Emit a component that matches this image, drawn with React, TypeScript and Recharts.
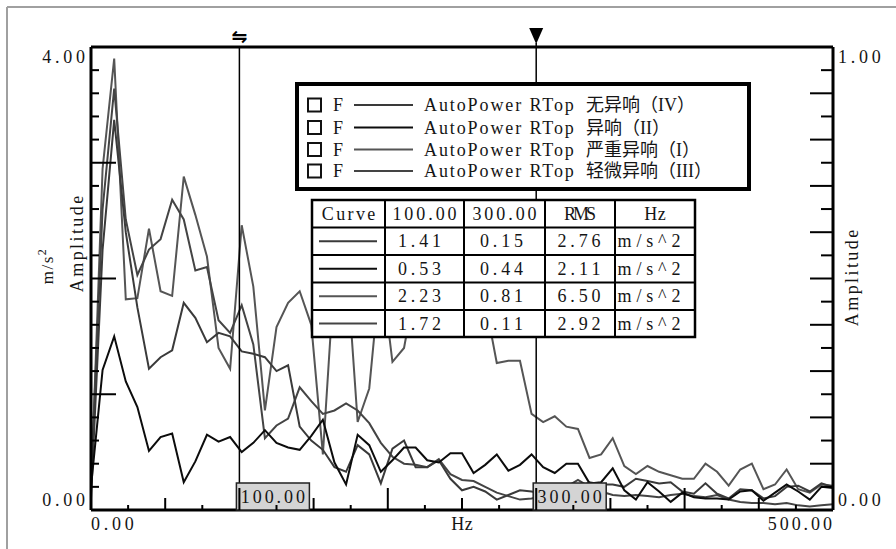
import React from 'react';
import { LineChart, Line, XAxis, YAxis, ReferenceLine } from 'recharts';

const FONT = "'Liberation Serif', 'Noto Sans CJK SC', serif";
const TXT = '#151515';

// frequency axis (Hz)
const freqs = [
  0, 7.81, 15.63, 23.44, 31.25, 39.06, 46.88, 54.69, 62.5, 70.31, 78.13, 85.94, 93.75,
  101.56, 109.38, 117.19, 125, 132.81, 140.63, 148.44, 156.25, 164.06, 171.88, 179.69,
  187.5, 195.31, 203.13, 210.94, 218.75, 226.56, 234.38, 242.19, 250, 257.81, 265.63,
  273.44, 281.25, 289.06, 296.88, 304.69, 312.5, 320.31, 328.13, 335.94, 343.75, 351.56,
  359.38, 367.19, 375, 382.81, 390.63, 398.44, 406.25, 414.06, 421.88, 429.69, 437.5,
  445.31, 453.13, 460.94, 468.75, 476.56, 484.38, 492.19, 500,
];

// AutoPower RTop 无异响（IV）
const seriesIV = [
  0.10, 2.25, 3.37, 2.40, 1.75, 1.22, 1.32, 1.38, 1.79, 1.66, 1.45, 1.53, 1.50,
  1.37, 1.35, 1.32, 1.20, 1.25, 0.72, 0.60, 0.52, 0.37, 0.33, 0.56, 0.48, 0.23,
  0.53, 0.60, 0.37, 0.37, 0.43, 0.27, 0.17, 0.20, 0.16, 0.09, 0.13, 0.17, 0.16,
  0.14, 0.20, 0.17, 0.19, 0.24, 0.22, 0.22, 0.20, 0.27, 0.25, 0.23, 0.24, 0.16,
  0.14, 0.23, 0.14, 0.10, 0.18, 0.17, 0.10, 0.12, 0.20, 0.21, 0.16, 0.23, 0.20,
];
// AutoPower RTop 异响（II）
const seriesII = [
  0.20, 1.21, 1.50, 1.11, 0.89, 0.51, 0.63, 0.66, 0.24, 0.42, 0.65, 0.59, 0.63,
  0.50, 0.58, 0.69, 0.58, 0.54, 0.52, 0.64, 0.78, 0.41, 0.22, 0.65, 0.56, 0.33,
  0.43, 0.54, 0.54, 0.43, 0.41, 0.49, 0.49, 0.32, 0.39, 0.48, 0.34, 0.39, 0.48,
  0.37, 0.32, 0.40, 0.40, 0.23, 0.24, 0.36, 0.17, 0.09, 0.24, 0.16, 0.07, 0.15,
  0.11, 0.10, 0.10, 0.09, 0.16, 0.17, 0.08, 0.15, 0.22, 0.16, 0.09, 0.20, 0.19,
];
// AutoPower RTop 严重异响（I）
const seriesI = [
  0.15, 2.95, 3.90, 1.82, 1.83, 2.43, 1.89, 1.85, 2.88, 2.55, 2.19, 1.40, 1.22,
  2.46, 1.93, 0.86, 1.58, 1.79, 1.89, 1.60, 0.48, 2.05, 2.20, 0.76, 1.05, 2.10,
  1.28, 1.40, 1.95, 2.30, 2.05, 2.40, 2.15, 2.25, 1.80, 1.27, 1.29, 1.29, 0.83,
  0.76, 0.81, 0.72, 0.70, 0.45, 0.48, 0.62, 0.38, 0.31, 0.38, 0.33, 0.30, 0.27,
  0.27, 0.40, 0.33, 0.21, 0.35, 0.40, 0.18, 0.22, 0.35, 0.18, 0.15, 0.22, 0.21,
];
// AutoPower RTop 轻微异响（III）
const seriesIII = [
  0.25, 2.60, 3.64, 2.51, 2.03, 2.25, 2.34, 2.68, 2.51, 2.07, 2.10, 1.64, 1.53,
  1.77, 1.43, 0.62, 0.73, 0.79, 1.06, 0.94, 0.83, 0.86, 0.92, 0.86, 0.75, 0.58,
  0.46, 0.40, 0.39, 0.37, 0.44, 0.31, 0.26, 0.25, 0.20, 0.15, 0.12, 0.09, 0.10,
  0.12, 0.18, 0.20, 0.26, 0.20, 0.16, 0.13, 0.12, 0.13, 0.12, 0.11, 0.13, 0.14,
  0.12, 0.11, 0.13, 0.09, 0.07, 0.06, 0.06, 0.05, 0.06, 0.04, 0.03, 0.04, 0.05,
];

const seriesKeys = ['iv', 'ii', 'i', 'iii'];
const seriesPrefix = 'AutoPower RTop';
const seriesNames = ['无异响（IV）', '异响（II）', '严重异响（I）', '轻微异响（III）'];
const seriesColors = ['#3a3a3a', '#0c0c0c', '#555555', '#444444'];
const drawOrder = [2, 3, 0, 1];

// cursors
const cursorFreqs = [100, 300];
const cursorLabels = ['100.00', '300.00'];

// readout table
const tableHeader = ['Curve', '100.00', '300.00', 'RMS', 'Hz'];
const valuesAt100 = ['1.41', '0.53', '2.23', '1.72'];
const valuesAt300 = ['0.15', '0.44', '0.81', '0.11'];
const rmsValues = ['2.76', '2.11', '6.50', '2.92'];
const unitValues = ['m/s^2', 'm/s^2', 'm/s^2', 'm/s^2'];

// axes
const xTicks = [0, 25, 50, 75, 100, 125, 150, 175, 200, 225, 250, 275, 300, 325, 350, 375, 400, 425, 450, 475, 500];
const xTickLabels: Record<number, string> = { 0: '0.00', 500: '500.00' };
const leftTicks = [0, 0.2, 0.4, 0.6, 0.8, 1, 1.2, 1.4, 1.6, 1.8, 2, 2.2, 2.4, 2.6, 2.8, 3, 3.2, 3.4, 3.6, 3.8, 4];
const leftTickLabels: Record<number, string> = { 0: '0.00', 4: '4.00' };
const rightTicks = [0, 0.05, 0.1, 0.15, 0.2, 0.25, 0.3, 0.35, 0.4, 0.45, 0.5, 0.55, 0.6, 0.65, 0.7, 0.75, 0.8, 0.85, 0.9, 0.95, 1];
const rightTickLabels: Record<number, string> = { 0: '0.00', 1: '1.00' };

const data = freqs.map((f, k) => ({
  f,
  iv: seriesIV[k],
  ii: seriesII[k],
  i: seriesI[k],
  iii: seriesIII[k],
}));

// half-width cell emulation (the original uses a monospaced SimSun-like face)
const HALF = 10.7;
const monoLen = (s: string) =>
  s.split('').reduce((a, ch) => a + (ch === '^' ? 20 : HALF), 0);

const T = (props: any) => {
  const { children, ...rest } = props;
  const s = String(children);
  return (
    <text
      fontFamily={FONT}
      fontSize={18}
      fill={TXT}
      textLength={monoLen(s)}
      lengthAdjust="spacing"
      {...rest}
    >
      {s}
    </text>
  );
};

const XTick = (p: any) => {
  const { x, y, payload } = p;
  const v = payload.value;
  const len = v % 100 === 0 ? 22 : v % 50 === 0 ? 12 : 5;
  const lab = xTickLabels[v];
  return (
    <g>
      {v > 0 && v < 500 && <line x1={x} y1={y} x2={x} y2={y - len} stroke="#000" strokeWidth={2} />}
      {lab && (
        <T x={v === 0 ? x : x - 1} y={y + 20} textAnchor={v === 0 ? 'start' : 'end'}>
          {lab}
        </T>
      )}
    </g>
  );
};

const LeftTick = (p: any) => {
  const { x, y, payload } = p;
  const v = payload.value;
  const major = Math.abs(v - Math.round(v)) < 1e-6;
  const len = major ? 25 : 8;
  const lab = leftTickLabels[v];
  return (
    <g>
      {v > 0 && v < 4 && <line x1={x} y1={y} x2={x + len} y2={y} stroke="#000" strokeWidth={2} />}
      {lab && (
        <T x={x - 6} y={v === 4 ? y + 16 : y - 4} textAnchor="end">
          {lab}
        </T>
      )}
    </g>
  );
};

const RightTick = (p: any) => {
  const { x, y, payload } = p;
  const v = payload.value;
  const major = Math.abs(v * 10 - Math.round(v * 10)) < 1e-6;
  const len = major ? 23 : 12;
  const lab = rightTickLabels[v];
  return (
    <g>
      {v > 0 && v < 1 && <line x1={x} y1={y} x2={x - len} y2={y} stroke="#000" strokeWidth={2} />}
      {lab && (
        <T x={x + 5} y={v === 1 ? y + 16 : y - 4} textAnchor="start">
          {lab}
        </T>
      )}
    </g>
  );
};

const makeCursorDecor = (idx: number) => (props: any) => {
  const vb = props.viewBox || props;
  const x = vb.x;
  const top = vb.y;
  const bottom = vb.y + vb.height;
  const boxW = 73;
  const boxH = 27;
  return (
    <g>
      {idx === 0 ? (
        <text x={x} y={top - 4} textAnchor="middle" fontFamily="'DejaVu Sans'" fontSize={19} fontWeight="bold" fill="#000">
          ⇋
        </text>
      ) : (
        <g>
          <line x1={x} y1={top - 4} x2={x} y2={top} stroke="#000" strokeWidth={1.5} />
          <polygon points={`${x - 7},${top - 19} ${x + 7},${top - 19} ${x},${top - 3}`} fill="#000" />
        </g>
      )}
      <rect x={x - 3} y={bottom - boxH} width={boxW} height={boxH} fill="#d4d4d4" stroke="#222" strokeWidth={1.5} />
      <T x={x - 3 + boxW / 2} y={bottom - 7} textAnchor="middle">
        {cursorLabels[idx]}
      </T>
    </g>
  );
};

const legendRowsY = [105, 127.5, 149.5, 171];
const tableCols = [312, 385, 464, 545, 615, 695];
const tableRows = [200, 227.5, 255, 282.5, 310, 337];
const cellShift = [-5, -3, -1, -6];

const Overlay = () => {
  const rowsData = [0, 1, 2, 3].map((k) => [valuesAt100[k], valuesAt300[k], rmsValues[k], unitValues[k]]);
  return (
    <svg
      width={896}
      height={549}
      style={{ position: 'absolute', left: 0, top: 0, pointerEvents: 'none' }}
    >
      {/* outer frame (left + top) */}
      <line x1={7} y1={7} x2={7} y2={549} stroke="#a0a0a0" strokeWidth={2} />
      <line x1={7} y1={7} x2={896} y2={7} stroke="#a0a0a0" strokeWidth={2} />

      {/* axis titles */}
      <text transform="translate(53,266) rotate(-90)" textAnchor="middle" fontFamily={FONT} fontSize={17} fill={TXT} letterSpacing={1.5}>
        m/s
        <tspan fontSize={12} dy={-7}>2</tspan>
      </text>
      <T transform="translate(83,244) rotate(-90)" textAnchor="middle">
        Amplitude
      </T>
      <T transform="translate(858,278) rotate(-90)" textAnchor="middle">
        Amplitude
      </T>
      <T x={462} y={530} textAnchor="middle">
        Hz
      </T>

      {/* legend */}
      <rect x={297} y={84} width={452} height={105} fill="#fff" stroke="#000" strokeWidth={4} />
      {seriesNames.map((name, k) => {
        const cy = legendRowsY[k];
        return (
          <g key={name}>
            <rect x={308} y={cy - 6.5} width={13} height={13} fill="#fff" stroke="#111" strokeWidth={2} />
            <T x={333} y={cy + 6}>F</T>
            <line x1={354} y1={cy} x2={413} y2={cy} stroke={seriesColors[k]} strokeWidth={2} />
            <T x={424} y={cy + 6}>{seriesPrefix}</T>
            <text x={586} y={cy + 6} fontFamily={FONT} fontSize={18} fill={TXT}>
              {name}
            </text>
          </g>
        );
      })}

      {/* readout table */}
      <rect x={312} y={200} width={383} height={137} fill="#fff" stroke="#000" strokeWidth={2.5} />
      {tableCols.slice(1, -1).map((cx) => (
        <line key={'c' + cx} x1={cx} y1={200} x2={cx} y2={337} stroke="#000" strokeWidth={2} />
      ))}
      {tableRows.slice(1, -1).map((ry) => (
        <line key={'r' + ry} x1={312} y1={ry} x2={695} y2={ry} stroke="#000" strokeWidth={2} />
      ))}
      {tableHeader.map((h, c) => (
        <T
          key={'h' + c}
          x={(tableCols[c] + tableCols[c + 1]) / 2}
          y={(tableRows[0] + tableRows[1]) / 2 + 6}
          textAnchor="middle"
        >
          {h}
        </T>
      ))}
      {rowsData.map((row, r) => {
        const cy = (tableRows[r + 1] + tableRows[r + 2]) / 2;
        return (
          <g key={'row' + r}>
            <line x1={319} y1={cy} x2={377} y2={cy} stroke={seriesColors[r]} strokeWidth={2} />
            {row.map((val, c) => (
              <T
                key={'v' + c}
                x={(tableCols[c + 1] + tableCols[c + 2]) / 2 + cellShift[c]}
                y={cy + 6}
                textAnchor="middle"
              >
                {val}
              </T>
            ))}
          </g>
        );
      })}
    </svg>
  );
};

export default function App() {
  return (
    <div style={{ position: 'absolute', left: 0, top: 0, width: 896, height: 549, background: '#fff' }}>
      <LineChart width={896} height={549} data={data} margin={{ top: 46, right: 13, bottom: 9, left: 41 }}>
        <XAxis
          xAxisId="b"
          dataKey="f"
          type="number"
          domain={[0, 500]}
          ticks={xTicks}
          interval={0}
          tickSize={0}
          tickMargin={0}
          height={30}
          axisLine={{ stroke: '#000', strokeWidth: 3 }}
          tickLine={false}
          tick={<XTick />}
        />
        <XAxis
          xAxisId="t"
          orientation="top"
          dataKey="f"
          type="number"
          domain={[0, 500]}
          height={1}
          tick={false}
          tickLine={false}
          axisLine={{ stroke: '#000', strokeWidth: 3 }}
        />
        <YAxis
          yAxisId="left"
          type="number"
          domain={[0, 4]}
          ticks={leftTicks}
          interval={0}
          width={50}
          tickSize={0}
          tickMargin={0}
          tickLine={false}
          axisLine={{ stroke: '#000', strokeWidth: 3 }}
          tick={<LeftTick />}
          allowDataOverflow
        />
        <YAxis
          yAxisId="right"
          orientation="right"
          type="number"
          domain={[0, 1]}
          ticks={rightTicks}
          interval={0}
          width={50}
          tickSize={0}
          tickMargin={0}
          tickLine={false}
          axisLine={{ stroke: '#000', strokeWidth: 3 }}
          tick={<RightTick />}
          allowDataOverflow
        />
        {drawOrder.map((k) => (
          <Line
            key={seriesKeys[k]}
            xAxisId="b"
            yAxisId="left"
            dataKey={seriesKeys[k]}
            type="linear"
            stroke={seriesColors[k]}
            strokeWidth={2}
            dot={false}
            activeDot={false}
            isAnimationActive={false}
          />
        ))}
        {cursorFreqs.map((cf, idx) => (
          <ReferenceLine
            key={'cur' + idx}
            xAxisId="b"
            yAxisId="left"
            x={cf}
            stroke="#000"
            strokeWidth={1.5}
            zIndex={1900}
            label={makeCursorDecor(idx)}
          />
        ))}
      </LineChart>
      <Overlay />
    </div>
  );
}
